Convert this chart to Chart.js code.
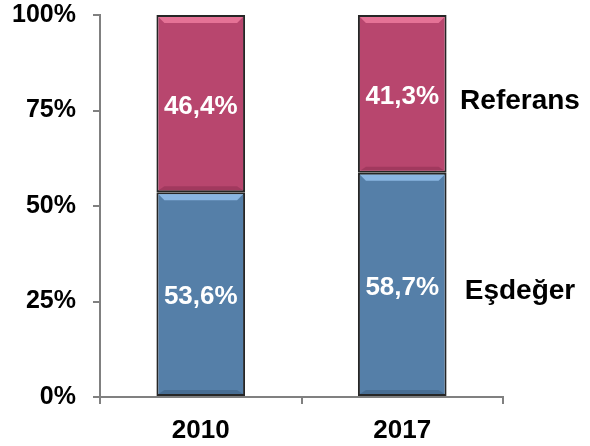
<!DOCTYPE html>
<html>
<head>
<meta charset="utf-8">
<script src="https://cdn.jsdelivr.net/npm/chart.js@4"></script>
<style>
  html, body { margin: 0; padding: 0; background: #ffffff; }
  #wrap { width: 590px; height: 446px; }
</style>
</head>
<body>
<div id="wrap"><canvas id="chart" width="590" height="446"></canvas></div>
<script>
// ── Data ──────────────────────────────────────────────────
const years = ["2010", "2017"];
const esdegerShare = [53.6, 58.7];
const referansShare = [46.4, 41.3];
const seriesNames = ["Eşdeğer", "Referans"];
const yTicks = [0, 25, 50, 75, 100];

const FONT = "'Liberation Sans', Arial, sans-serif";
const BLUE = "#557fa8";
const CRIMSON = "#b8466e";

// ── Bevel + labels plugin ─────────────────────────────────
const bevelPlugin = {
  id: "bevel",
  afterDatasetsDraw(chart) {
    const { ctx } = chart;
    const tones = [
      { light: "rgba(150,195,240,0.8)", dark: "rgba(40,70,100,0.3)" },
      { light: "rgba(240,125,160,0.8)", dark: "rgba(110,30,60,0.3)" }
    ];
    chart.data.datasets.forEach((ds, di) => {
      chart.getDatasetMeta(di).data.forEach((bar) => {
        const half = bar.width / 2;
        const left = bar.x - half + 2, right = bar.x + half - 2;
        const top = Math.min(bar.y, bar.base) + 2;
        const bottom = Math.max(bar.y, bar.base) - 2;
        const b = 6;
        ctx.save();
        ctx.fillStyle = tones[di].light;
        ctx.beginPath();
        ctx.moveTo(left, top); ctx.lineTo(right, top);
        ctx.lineTo(right - b, top + b); ctx.lineTo(left + b, top + b);
        ctx.closePath(); ctx.fill();
        ctx.fillStyle = tones[di].dark;
        ctx.beginPath();
        ctx.moveTo(left, bottom); ctx.lineTo(right, bottom);
        ctx.lineTo(right - b, bottom - 4); ctx.lineTo(left + b, bottom - 4);
        ctx.closePath(); ctx.fill();
        ctx.restore();
      });
    });
  },
  afterDraw(chart) {
    const { ctx, chartArea } = chart;
    ctx.save();
    ctx.textAlign = "center";
    ctx.textBaseline = "middle";
    chart.data.datasets.forEach((ds, di) => {
      const bars = chart.getDatasetMeta(di).data;
      bars.forEach((bar, i) => {
        const cy = (bar.y + bar.base) / 2 + 3;
        ctx.fillStyle = "#ffffff";
        ctx.font = `bold 26px ${FONT}`;
        ctx.fillText(ds.data[i].toFixed(1).replace(".", ",") + "%", bar.x, cy);
      });
      // series name beside the last bar
      const last = bars[bars.length - 1];
      ctx.fillStyle = "#000000";
      ctx.font = `bold 28px ${FONT}`;
      ctx.fillText(ds.label, chartArea.right + 17, (last.y + last.base) / 2 + 7);
    });
    ctx.restore();
  }
};

// ── Chart ─────────────────────────────────────────────────
new Chart(document.getElementById("chart"), {
  type: "bar",
  data: {
    labels: years,
    datasets: [
      { label: seriesNames[0], data: esdegerShare, backgroundColor: BLUE },
      { label: seriesNames[1], data: referansShare, backgroundColor: CRIMSON }
    ]
  },
  options: {
    responsive: false,
    animation: false,
    layout: { padding: { top: 0, right: 87, left: 0, bottom: 0 } },
    datasets: {
      bar: {
        categoryPercentage: 1,
        barPercentage: 0.44,
        borderColor: "#262626",
        borderWidth: 2,
        borderSkipped: false
      }
    },
    plugins: { legend: { display: false }, tooltip: { enabled: false } },
    scales: {
      x: {
        stacked: true,
        afterFit: (s) => { s.height = 49; },
        border: { color: "#808080", width: 2 },
        grid: { drawOnChartArea: false, color: "#808080", lineWidth: 2, tickLength: 7, offset: true },
        ticks: { color: "#000", padding: 11, font: { family: FONT, size: 26, weight: "bold" } }
      },
      y: {
        stacked: true,
        min: 0,
        max: 100,
        afterFit: (s) => { s.width = 100; s.paddingTop = 15; s.paddingBottom = 0; },
        afterBuildTicks: (s) => { s.ticks = yTicks.map((v) => ({ value: v })); },
        border: { color: "#808080", width: 2 },
        grid: { drawOnChartArea: false, color: "#808080", lineWidth: 2, tickLength: 7 },
        ticks: {
          color: "#000",
          padding: 17,
          font: { family: FONT, size: 25, weight: "bold" },
          callback: (v) => v + "%"
        }
      }
    }
  },
  plugins: [bevelPlugin]
});
</script>
</body>
</html>
